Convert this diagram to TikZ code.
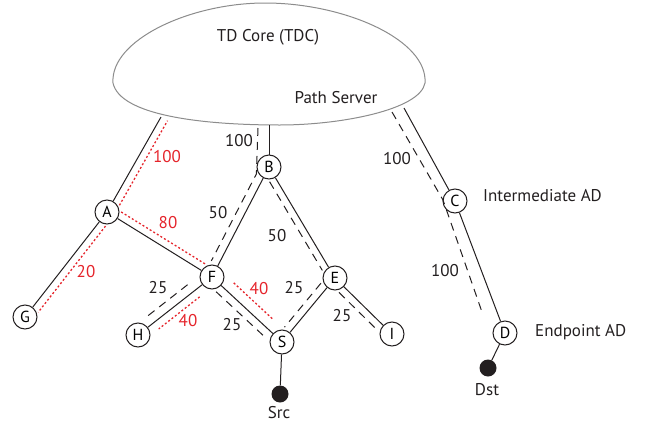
\documentclass[tikz,border=0pt]{standalone}
\usepackage{fontspec}
\setmainfont{PT Sans}
\usetikzlibrary{calc}
\definecolor{lred}{HTML}{E5242B}
\definecolor{ink}{HTML}{231F20}
\definecolor{cloudgray}{HTML}{8C8C8C}
\newcommand\parl[5]{%
  \coordinate (p1) at ($(#2)!#5!#4:(#3)$);
  \coordinate (p2) at ($(p1)+(#3)-(#2)$);
  \draw[#1] (p1) -- (p2);}
\begin{document}
\begin{tikzpicture}[x=1pt,y=-1pt,
  font=\fontsize{17}{20}\selectfont,
  nd/.style={circle,draw=ink,line width=1pt,minimum size=24pt,inner sep=0pt,font=\fontsize{16}{18}\selectfont},
  blob/.style={circle,fill=ink,minimum size=17pt,inner sep=0pt},
  conn/.style={draw=ink,line width=1pt},
  dsh/.style={draw=ink,line width=1pt,dash pattern=on 8pt off 6pt,shorten <=13pt,shorten >=13pt},
  rdot/.style={draw=lred,line width=1.3pt,dash pattern=on 2pt off 2.2pt,shorten <=12pt,shorten >=12pt},
  lbl/.style={inner sep=0pt,text=ink},
  rlbl/.style={inner sep=0pt,text=lred}]
\useasboundingbox (0,0) rectangle (654,426);
% cloud
\draw[cloudgray,line width=1pt,fill=white]
  (113,83) .. controls (110,40) and (190,3) .. (265,3)
  .. controls (345,3) and (428,40) .. (425,83)
  .. controls (420,110) and (340,125) .. (280,125)
  .. controls (200,125) and (120,115) .. (113,83) -- cycle;
\node[lbl] (tdc) at (268,37) {TD Core (TDC)};
\node[lbl] (ps) at (336,98) {Path Server};
\coordinate (cA) at (161,117);
\coordinate (cB) at (269,125);
\coordinate (cC) at (404,108);
\coordinate (dB) at (258,128);
\coordinate (dC1) at (392,112);
\coordinate (dC2) at (443,200);
\coordinate (dC3) at (482,312);
% nodes
\node[nd] (A) at (107,212) {A};
\node[nd] (B) at (269,167) {B};
\node[nd] (C) at (455,201) {C};
\node[nd] (D) at (505,333) {D};
\node[nd] (E) at (335,278) {E};
\node[nd] (F) at (212,277) {F};
\node[nd] (G) at (25,317) {G};
\node[nd] (H) at (138,335) {H};
\node[nd] (I) at (392,334) {I};
\node[nd] (S) at (282,342) {S};
\node[blob] (src) at (280,394) {};
\node[blob] (dst) at (488,368) {};
% solid links
\draw[conn] (A) -- (cA);
\draw[conn] (A) -- (G);
\draw[conn] (A) -- (F);
\draw[conn] (B) -- (cB);
\draw[conn] (B) -- (F);
\draw[conn] (B) -- (E);
\draw[conn] (F) -- (H);
\draw[conn] (F) -- (S);
\draw[conn] (E) -- (S);
\draw[conn] (E) -- (I);
\draw[conn] (C) -- (cC);
\draw[conn] (C) -- (D);
\draw[conn] (S) -- (src);
\draw[conn] (D) -- (dst);
% parallel annotations
\parl{rdot}{A}{G}{90}{7.5pt}
\parl{rdot}{A}{F}{90}{7.5pt}
\parl{rdot,shorten >=0pt}{A}{cA}{-90}{7.5pt}
\parl{dsh}{B}{E}{-90}{7pt}
\parl{dsh,shorten <=24pt,shorten >=16pt}{F}{H}{-90}{9pt}
\parl{rdot,shorten <=22pt,shorten >=20pt}{F}{H}{90}{8pt}
\parl{dsh}{F}{S}{-90}{8pt}
\parl{rdot,shorten <=20pt,shorten >=22pt}{F}{S}{90}{10.5pt}
\parl{dsh}{E}{S}{-90}{7.5pt}
\parl{dsh}{E}{I}{-90}{7.5pt}
\coordinate (q1) at ($(B)!8pt!-90:(F)$);
\coordinate (q2) at ($(q1)+(F)-(B)$);
\draw[dsh,shorten <=0pt,shorten >=0pt] (dB) -- ($(q1)!12pt!(q2)$) -- ($(q2)!14pt!(q1)$);
\draw[dsh,shorten <=0pt,shorten >=0pt] (dC1) -- (dC2) -- (dC3);
% labels
\node[rlbl] (w1) at (167,157) {100};
\node[lbl] (w2) at (239,141) {100};
\node[lbl] (w3) at (218,213) {50};
\node[rlbl] (w4) at (168,223) {80};
\node[lbl] (w5) at (277,236) {50};
\node[rlbl] (w6) at (86,272) {20};
\node[lbl] (w7) at (158,288) {25};
\node[rlbl] (w8) at (259,289) {40};
\node[lbl] (w9) at (294,288) {25};
\node[rlbl] (w10) at (188,321) {40};
\node[lbl] (w11) at (232,325) {25};
\node[lbl] (w12) at (342,316) {25};
\node[lbl] (w13) at (397,159) {100};
\node[lbl] (w14) at (445,271) {100};
\node[lbl,anchor=west] (iad) at (483,196) {Intermediate AD};
\node[lbl,anchor=west] (ead) at (535,332) {Endpoint AD};
\node[lbl] (srct) at (279,413) {Src};
\node[lbl] (dstt) at (487,390) {Dst};
\end{tikzpicture}
\end{document}
